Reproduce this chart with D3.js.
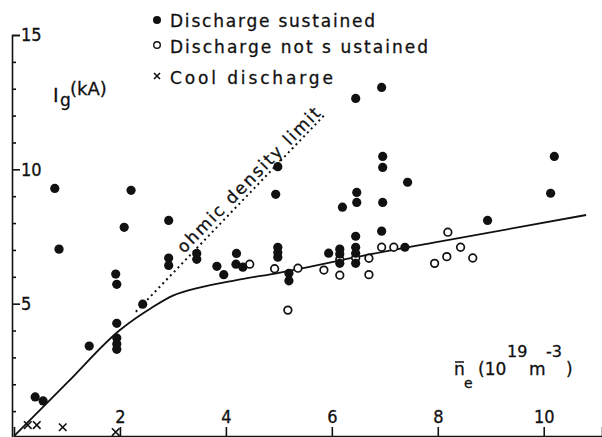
<!DOCTYPE html>
<html>
<head>
<meta charset="utf-8">
<script src="https://cdn.jsdelivr.net/npm/d3@7"></script>
<style>
body{margin:0;background:#fff}
text{font-family:"DejaVu Sans",sans-serif;fill:#111;stroke:#111;stroke-width:0.3px}
</style>
</head>
<body>
<svg id="chart"></svg>
<script>
// discharge sustained (filled dots), [n_e, I_g]
var sustained=[[0.77,9.29],[2.21,9.22],[2.08,7.84],[0.85,7.03],[1.92,6.10],[1.94,5.72],
 [2.43,4.98],[1.94,4.27],[1.94,3.72],[1.94,3.5],[1.94,3.3],[1.42,3.42],[0.40,1.53],[0.55,1.38],
 [4.98,10.1],[4.94,9.07],[2.92,8.10],[2.92,6.7],[2.92,6.42],[3.45,6.87],[3.45,6.65],
 [3.83,6.39],[3.96,6.08],[4.2,6.87],[4.19,6.47],[4.32,6.36],[4.98,7.1],[4.98,6.9],[4.98,6.73],
 [5.19,6.13],[5.19,5.85],[6.45,12.64],[6.94,13.05],[6.96,10.48],[6.96,10.07],[7.43,9.52],
 [6.47,9.14],[6.47,8.77],[6.2,8.59],[6.96,8.77],[6.94,7.7],[6.45,7.51],[5.94,6.88],
 [6.15,7.03],[6.15,6.85],[6.15,6.5],[6.45,7.1],[6.45,6.88],[6.45,6.5],[7.38,7.1],
 [10.2,10.48],[10.13,9.11],[8.94,8.1]]
// discharge not sustained (open circles)
var notSustained=[[4.45,6.47],[4.92,6.3],[5.17,4.76],[5.36,6.32],[5.85,6.25],[6.15,6.65],
 [6.15,6.06],[6.45,6.7],[6.7,6.69],[6.7,6.08],[6.94,7.1],[7.17,7.1],[7.94,6.5],[8.19,7.66],
 [8.17,6.75],[8.43,7.1],[8.66,6.7]]
// cool discharge (crosses)
var cool=[[0.26,0.48],[0.43,0.48],[0.92,0.4],[1.92,0.22]]
// solid fit curve
var curve=[[0,0.07],[1,2.05],[2,4.02],[2.6,4.85],[3,5.3],[3.5,5.6],[4.2,5.88],[5,6.15],
 [5.4,6.3],[6.5,6.75],[8,7.3],[10.8,8.3]]
// ohmic density limit (dotted)
var ohmic=[[2.3,4.7],[5.85,12.0]]
var xTicks=[2,4,6,8,10]
var yTicks=d3.range(1,16)
var yLabels=[5,10,15]

var screen={width:602,height:437}
var svg=d3.select("#chart")
 .attr("width",screen.width)
 .attr("height",screen.height)

var xScale=d3.scaleLinear()
 .domain([0,11.1])
 .range([14,602])
var yScale=d3.scaleLinear()
 .domain([0,15])
 .range([438,35])

//y axis, labels inside
var yAxis=svg.append("g")
 .attr("transform","translate(12,0)")
 .call(d3.axisRight(yScale).tickValues(yTicks).tickSizeOuter(0).tickSize(8).tickPadding(1)
   .tickFormat(function(d){return yLabels.indexOf(d)>=0?d:""}))
yAxis.selectAll(".tick line")
 .attr("x2",function(d){return yLabels.indexOf(d)>=0?8:4})
yAxis.selectAll("text").style("font-size","18px").style("font-family","DejaVu Sans Condensed")
 .style("stroke","#111").style("stroke-width","0.3px")
yAxis.selectAll("path,line").attr("stroke","#111").attr("stroke-width",1.6)

//x axis along the bottom, ticks up
var xAxis=svg.append("g")
 .attr("transform","translate(0,436)")
 .call(d3.axisTop(xScale).tickValues(xTicks).tickSizeOuter(0).tickSize(9).tickPadding(4))
xAxis.selectAll("text").style("font-size","18px").style("font-family","DejaVu Sans Condensed")
 .style("stroke","#111").style("stroke-width","0.3px")
xAxis.selectAll("path,line").attr("stroke","#111").attr("stroke-width",1.6)

var line=d3.line()
 .x(function(d){return xScale(d[0])})
 .y(function(d){return yScale(d[1])})

svg.append("path")
 .datum(curve)
 .attr("d",line.curve(d3.curveMonotoneX))
 .attr("fill","none")
 .attr("stroke","#111")
 .attr("stroke-width",1.8)

svg.append("path")
 .datum(ohmic)
 .attr("d",d3.line().x(function(d){return xScale(d[0])}).y(function(d){return yScale(d[1])}))
 .attr("fill","none")
 .attr("stroke","#111")
 .attr("stroke-width",2)
 .attr("stroke-dasharray","2,3.5")

svg.append("text")
 .attr("transform","translate(184,254) rotate(-45.5)")
 .style("font-size","17px")
 .attr("textLength",196)
 .attr("lengthAdjust","spacing")
 .text("ohmic density limit")

svg.selectAll(".open")
 .data(notSustained)
 .enter()
 .append("circle")
 .attr("cx",function(d){return xScale(d[0])})
 .attr("cy",function(d){return yScale(d[1])})
 .attr("r",3.8)
 .attr("fill","#fff")
 .attr("stroke","#111")
 .attr("stroke-width",1.7)

svg.selectAll(".filled")
 .data(sustained)
 .enter()
 .append("circle")
 .attr("cx",function(d){return xScale(d[0])})
 .attr("cy",function(d){return yScale(d[1])})
 .attr("r",4.6)
 .attr("fill","#111")

svg.selectAll(".cross")
 .data(cool)
 .enter()
 .append("path")
 .attr("d",function(d){
   var cx=xScale(d[0]),cy=yScale(d[1]),s=3.8
   return "M"+(cx-s)+","+(cy-s)+"L"+(cx+s)+","+(cy+s)+"M"+(cx-s)+","+(cy+s)+"L"+(cx+s)+","+(cy-s)
 })
 .attr("stroke","#111")
 .attr("stroke-width",1.6)

//legend
var legend=svg.append("g")
legend.append("circle").attr("cx",157).attr("cy",20).attr("r",4).attr("fill","#111")
legend.append("circle").attr("cx",157).attr("cy",45).attr("r",3.3).attr("fill","#fff").attr("stroke","#111").attr("stroke-width",1.4)
legend.append("path").attr("d","M154,73L160,79M154,79L160,73").attr("stroke","#111").attr("stroke-width",1.6)
var legendText=["Discharge sustained","Discharge not s ustained","Cool discharge"]
var legendLen=[205,258,163]
legend.selectAll("text")
 .data(legendText)
 .enter()
 .append("text")
 .attr("x",170)
 .attr("y",function(d,i){return [27,53,84][i]})
 .attr("textLength",function(d,i){return legendLen[i]})
 .attr("lengthAdjust","spacing")
 .style("font-size","17px")
 .text(function(d){return d})

//axis titles
var yt=svg.append("text").style("font-size","19px")
yt.append("tspan").attr("x",53).attr("y",102).text("I")
yt.append("tspan").attr("x",60).attr("y",106).style("font-size","17px").text("g")
yt.append("tspan").attr("x",70).attr("y",95).style("font-size","18px").text("(kA)")

var xt=svg.append("text").style("font-size","17px")
xt.append("tspan").attr("x",454).attr("y",375).text("n")
xt.append("tspan").attr("x",464).attr("y",388).style("font-size","14px").text("e")
xt.append("tspan").attr("x",478).attr("y",375).text("(10")
xt.append("tspan").attr("x",507).attr("y",357).style("font-size","16px").text("19")
xt.append("tspan").attr("x",529).attr("y",375).text("m")
xt.append("tspan").attr("x",546).attr("y",357).style("font-size","16px").text("-3")
xt.append("tspan").attr("x",566).attr("y",375).text(")")
svg.append("line").attr("x1",455).attr("x2",464).attr("y1",362).attr("y2",362)
 .attr("stroke","#111").attr("stroke-width",1.5)
</script>
</body>
</html>
